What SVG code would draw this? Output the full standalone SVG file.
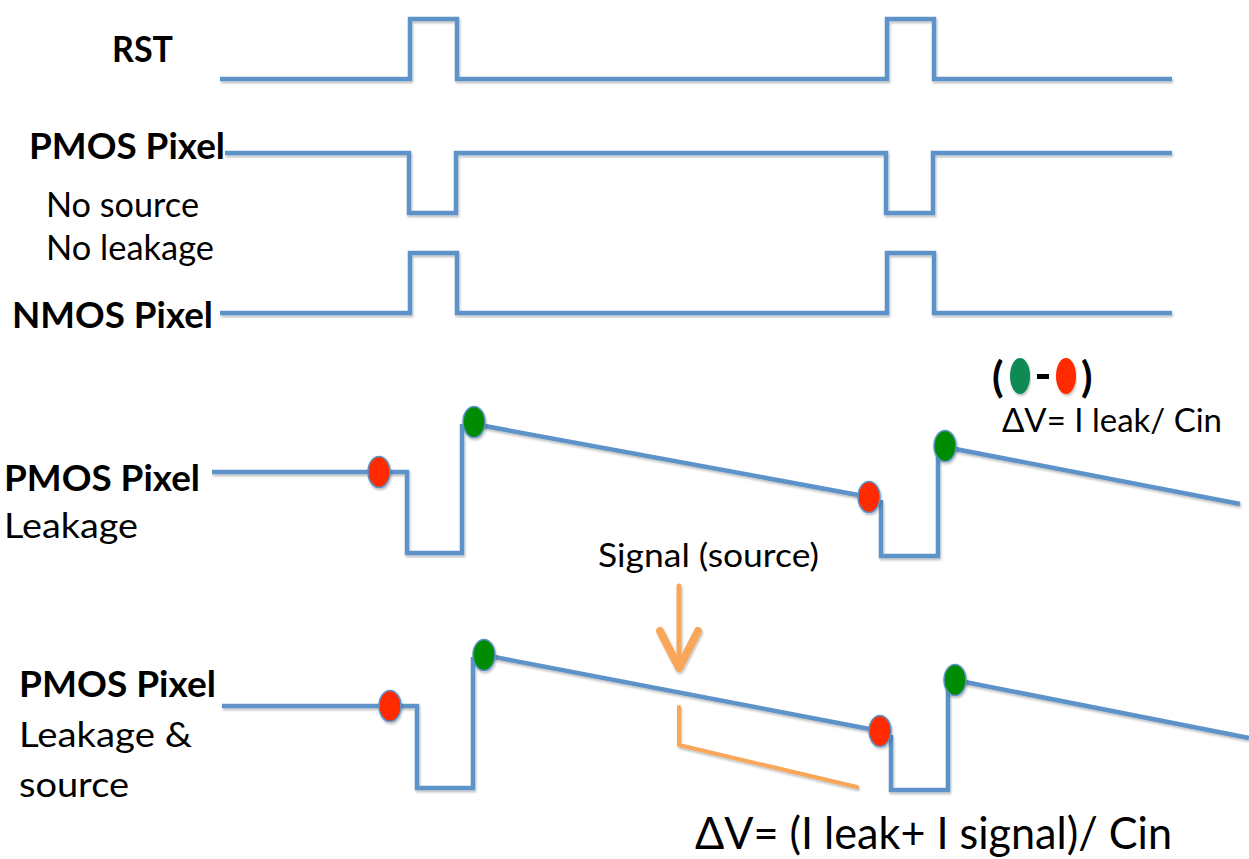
<svg xmlns="http://www.w3.org/2000/svg" width="1249" height="859" viewBox="0 0 1249 859">
  <defs>
    <filter id="shadow" x="-5%" y="-20%" width="110%" height="140%">
      <feDropShadow dx="1" dy="2" stdDeviation="1.2" flood-color="#000" flood-opacity="0.25"/>
    </filter>
    <style>
      .wave { fill: none; stroke: #5d93c9; stroke-width: 4.5; stroke-linejoin: miter; stroke-linecap: butt; }
      .orange { fill: none; stroke: #f8a65a; stroke-linecap: round; stroke-linejoin: round; }
      .dot { stroke: #5d93c9; stroke-width: 1.5; }
      .red { fill: #ff2b00; }
      .green { fill: #008c00; }
      .lbl { font-family: Lato, "Liberation Sans", Arial, sans-serif; fill: #000; }
      .b { font-weight: bold; }
    </style>
  </defs>
  <rect width="1249" height="859" fill="#ffffff"/>

  <!-- signal traces -->
  <g id="connectors" filter="url(#shadow)">
    <path class="wave" d="M220,79 H410 V19 H457 V79 H887 V19 H934 V79 H1172"/>
    <path class="wave" d="M225,153 H409 V213 H456 V153 H886 V213 H933 V153 H1172"/>
    <path class="wave" d="M220,313 H410 V253 H457 V313 H887 V253 H934 V313 H1172"/>
    <!-- PMOS pixel with leakage -->
    <path class="wave" d="M212,472 H407 V553 H462 V424"/>
    <path class="wave" d="M474,424 L869,497"/>
    <path class="wave" d="M881,500 V556 H938 V448"/>
    <path class="wave" d="M945,447 L1240,504"/>
    <!-- PMOS pixel with leakage and source -->
    <path class="wave" d="M222,706 H417 V788 H473 V657"/>
    <path class="wave" d="M484,655 L880,731"/>
    <path class="wave" d="M891,735 V790 H948 V683"/>
    <path class="wave" d="M955,680 L1249,738"/>
    <!-- signal injection arrow and bracket -->
    <path class="orange" stroke-width="5" d="M679,586 V668"/>
    <path class="orange" stroke-width="8" d="M660,631 L679,668 L698,631"/>
    <path class="orange" stroke-width="4" stroke-linecap="butt" d="M679,707 V745 L857,787"/>
  </g>

  <!-- sample points -->
  <g id="samples" filter="url(#shadow)">
    <ellipse class="dot red" cx="379" cy="472" rx="11" ry="15.5"/>
    <ellipse class="dot green" cx="474" cy="422" rx="11" ry="15.5"/>
    <ellipse class="dot red" cx="869" cy="497" rx="11" ry="15.5"/>
    <ellipse class="dot green" cx="945" cy="446" rx="11" ry="15.5"/>
    <ellipse class="dot red" cx="390" cy="706" rx="11" ry="15.5"/>
    <ellipse class="dot green" cx="484" cy="655" rx="11" ry="15.5"/>
    <ellipse class="dot red" cx="880" cy="731" rx="11" ry="15.5"/>
    <ellipse class="dot green" cx="955" cy="680" rx="11" ry="15.5"/>
  </g>

  <!-- row labels -->
  <g id="label-rst">
    <text class="lbl b" x="112" y="62" font-size="36" textLength="61" lengthAdjust="spacingAndGlyphs">RST</text>
  </g>
  <g id="label-pmos-ideal">
    <text class="lbl b" x="29" y="159" font-size="36" textLength="196" lengthAdjust="spacingAndGlyphs">PMOS Pixel</text>
    <text class="lbl" x="46" y="217" font-size="34" textLength="153" lengthAdjust="spacingAndGlyphs">No source</text>
    <text class="lbl" x="46" y="260" font-size="34" textLength="168" lengthAdjust="spacingAndGlyphs">No leakage</text>
  </g>
  <g id="label-nmos">
    <text class="lbl b" x="12" y="328" font-size="36" textLength="201" lengthAdjust="spacingAndGlyphs">NMOS Pixel</text>
  </g>
  <g id="label-pmos-leak">
    <text class="lbl b" x="4" y="491" font-size="36" textLength="196" lengthAdjust="spacingAndGlyphs">PMOS Pixel</text>
    <text class="lbl" x="4" y="538" font-size="35" textLength="134" lengthAdjust="spacingAndGlyphs">Leakage</text>
  </g>
  <g id="label-pmos-leak-source">
    <text class="lbl b" x="19" y="697" font-size="36" textLength="197" lengthAdjust="spacingAndGlyphs">PMOS Pixel</text>
    <text class="lbl" x="19" y="747" font-size="35" textLength="173" lengthAdjust="spacingAndGlyphs">Leakage &amp;</text>
    <text class="lbl" x="19" y="797" font-size="35" textLength="110" lengthAdjust="spacingAndGlyphs">source</text>
  </g>

  <!-- annotations -->
  <g id="signal-label">
    <text class="lbl" x="598" y="567" font-size="32" textLength="221" lengthAdjust="spacingAndGlyphs">Signal (source)</text>
  </g>
  <g id="legend">
    <text class="lbl b" x="992" y="392" font-size="42">(</text>
    <ellipse cx="1020" cy="376" rx="10" ry="18" fill="#0b8b52" filter="url(#shadow)"/>
    <rect x="1037" y="374" width="12" height="5" fill="#000"/>
    <ellipse cx="1066" cy="376" rx="10" ry="18" fill="#ff2b00" filter="url(#shadow)"/>
    <text class="lbl b" x="1081" y="392" font-size="42">)</text>
    <text class="lbl" x="1002" y="432" font-size="32" textLength="220" lengthAdjust="spacingAndGlyphs">ΔV= I leak/ Cin</text>
  </g>
  <g id="formula">
    <text class="lbl" x="695" y="849" font-size="44" textLength="477" lengthAdjust="spacingAndGlyphs">ΔV= (I leak+ I signal)/ Cin</text>
  </g>
</svg>
